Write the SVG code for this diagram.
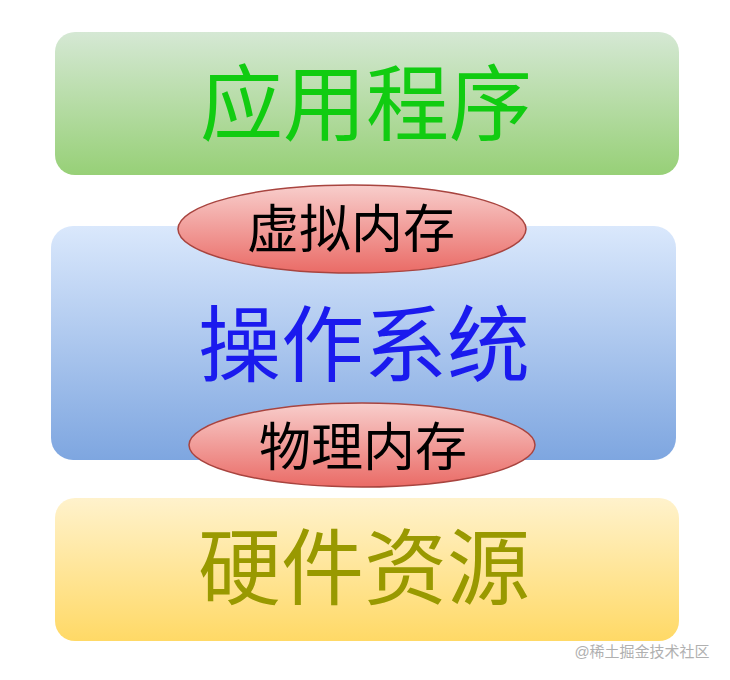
<svg xmlns="http://www.w3.org/2000/svg" width="730" height="680" viewBox="0 0 730 680">
<defs>
<linearGradient id="gGreen" x1="0" y1="0" x2="0" y2="1"><stop offset="0" stop-color="#d5e8d4"/><stop offset="1" stop-color="#97d077"/></linearGradient>
<linearGradient id="gBlue" x1="0" y1="0" x2="0" y2="1"><stop offset="0" stop-color="#dae8fc"/><stop offset="1" stop-color="#7ea6e0"/></linearGradient>
<linearGradient id="gYellow" x1="0" y1="0" x2="0" y2="1"><stop offset="0" stop-color="#fff2cc"/><stop offset="1" stop-color="#ffd966"/></linearGradient>
<linearGradient id="gRed" x1="0" y1="0" x2="0" y2="1"><stop offset="0" stop-color="#f8cecc"/><stop offset="1" stop-color="#ea6b66"/></linearGradient>
</defs>
<style>
text{font-family:"Liberation Sans","Noto Sans CJK SC",sans-serif;text-anchor:middle;}
.big{font-size:83px;}
.mid{font-size:52px;fill:#000;}
.ell{fill:url(#gRed);stroke:#a8443f;stroke-width:1.5;}
</style>
<rect width="730" height="680" fill="#fff"/>
<g id="app">
<rect x="55" y="32" width="624" height="143" rx="20" fill="url(#gGreen)"/>
<text class="big" x="366" y="134" fill="#11cc11">应用程序</text>
</g>
<g id="os">
<rect x="51" y="226" width="625" height="234" rx="22" fill="url(#gBlue)"/>
<text class="big" x="364" y="375" fill="#1a1aee">操作系统</text>
</g>
<g id="hw">
<rect x="55" y="498" width="624" height="143" rx="20" fill="url(#gYellow)"/>
<text class="big" x="364" y="598" fill="#999900">硬件资源</text>
</g>
<g id="vmem">
<ellipse class="ell" cx="352" cy="229" rx="174" ry="44"/>
<text class="mid" x="351" y="248">虚拟内存</text>
</g>
<g id="pmem">
<ellipse class="ell" cx="362" cy="445" rx="173" ry="42"/>
<text class="mid" x="363" y="466">物理内存</text>
</g>
<g id="connectors"></g>
<text x="642" y="657" style="font-size:15px;fill:#b0b0b0;">@稀土掘金技术社区</text>
</svg>
